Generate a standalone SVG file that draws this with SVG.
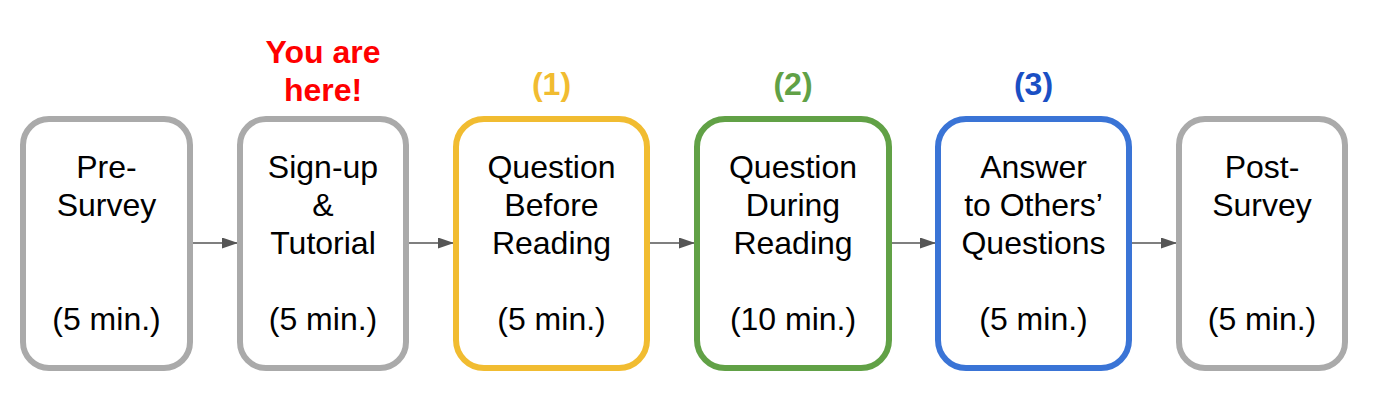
<svg xmlns="http://www.w3.org/2000/svg" width="1385" height="409" viewBox="0 0 1385 409">
<defs>
<marker id="ah" markerWidth="16" markerHeight="11" refX="16" refY="5.5" orient="auto" markerUnits="userSpaceOnUse">
<path d="M0,0 L16,5.5 L0,11 Z" fill="#555555"/>
</marker>
<style>
.box{fill:#ffffff;stroke-width:6}
.gray{stroke:#aaaaaa}
.yellow{stroke:#f1bc31}
.green{stroke:#61a146}
.blue{stroke:#3a74d6}
.t{font-family:"Liberation Sans",Arial,sans-serif;font-size:32px;fill:#000000;text-anchor:middle}
.h{font-family:"Liberation Sans",Arial,sans-serif;font-size:32px;font-weight:bold;text-anchor:middle}
.conn{stroke:#555555;stroke-width:1.6;fill:none}
</style>
</defs>
<rect width="1385" height="409" fill="#ffffff"/>
<g id="connectors">
<line class="conn" x1="191" y1="243" x2="238" y2="243" marker-end="url(#ah)"/>
<line class="conn" x1="408" y1="243" x2="454" y2="243" marker-end="url(#ah)"/>
<line class="conn" x1="648" y1="243" x2="695" y2="243" marker-end="url(#ah)"/>
<line class="conn" x1="890" y1="243" x2="936" y2="243" marker-end="url(#ah)"/>
<line class="conn" x1="1130" y1="243" x2="1177" y2="243" marker-end="url(#ah)"/>
</g>
<g id="n1">
<rect class="box gray" x="23" y="119" width="167" height="249" rx="26"/>
<text class="t" x="106.5" y="178">Pre-</text>
<text class="t" x="106.5" y="216">Survey</text>
<text class="t" x="106.5" y="330">(5 min.)</text>
</g>
<g id="n2">
<text class="h" x="323" y="63" fill="#ff0000">You are</text>
<text class="h" x="323" y="101" fill="#ff0000">here!</text>
<rect class="box gray" x="240" y="119" width="166" height="249" rx="26"/>
<text class="t" x="323" y="178">Sign-up</text>
<text class="t" x="323" y="216">&amp;</text>
<text class="t" x="323" y="254">Tutorial</text>
<text class="t" x="323" y="330">(5 min.)</text>
</g>
<g id="n3">
<text class="h" x="551.5" y="95" fill="#f1bc31">(1)</text>
<rect class="box yellow" x="456" y="119" width="191" height="249" rx="28"/>
<text class="t" x="551.5" y="178">Question</text>
<text class="t" x="551.5" y="216">Before</text>
<text class="t" x="551.5" y="254">Reading</text>
<text class="t" x="551.5" y="330">(5 min.)</text>
</g>
<g id="n4">
<text class="h" x="793" y="95" fill="#61a146">(2)</text>
<rect class="box green" x="697" y="119" width="192" height="249" rx="28"/>
<text class="t" x="793" y="178">Question</text>
<text class="t" x="793" y="216">During</text>
<text class="t" x="793" y="254">Reading</text>
<text class="t" x="793" y="330">(10 min.)</text>
</g>
<g id="n5">
<text class="h" x="1033.5" y="95" fill="#1a4fc4">(3)</text>
<rect class="box blue" x="938" y="119" width="191" height="249" rx="28"/>
<text class="t" x="1033.5" y="178">Answer</text>
<text class="t" x="1033.5" y="216">to Others’</text>
<text class="t" x="1033.5" y="254">Questions</text>
<text class="t" x="1033.5" y="330">(5 min.)</text>
</g>
<g id="n6">
<rect class="box gray" x="1179" y="119" width="166" height="249" rx="26"/>
<text class="t" x="1262" y="178">Post-</text>
<text class="t" x="1262" y="216">Survey</text>
<text class="t" x="1262" y="330">(5 min.)</text>
</g>
</svg>
